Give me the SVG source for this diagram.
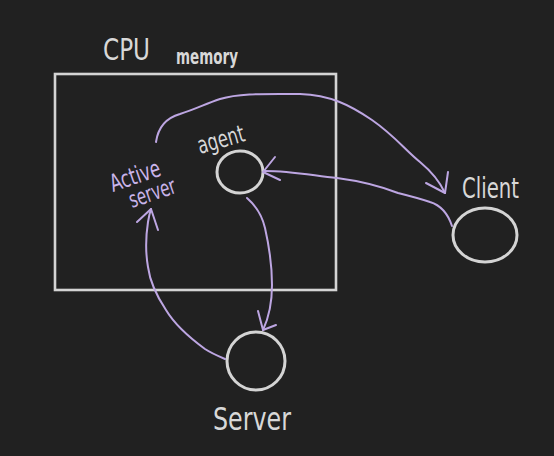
<svg xmlns="http://www.w3.org/2000/svg" width="554" height="456" viewBox="0 0 554 456">
<style>
.bg{fill:#212121}
.box{fill:none;stroke:#d4d4d4;stroke-width:2.6}
.node{fill:none;stroke:#d4d4d4;stroke-width:3}
.lbl{fill:#d8d8d8;font-family:"DejaVu Sans","Liberation Sans",sans-serif}
.plbl{fill:#c9b4ea;font-family:"DejaVu Sans","Liberation Sans",sans-serif}
.edge{fill:none;stroke:#bda6e2;stroke-width:2;stroke-linecap:round;stroke-linejoin:round}
</style>
<rect class="bg" x="0" y="0" width="554" height="456"/>
<g id="cpu">
<rect class="box" x="55" y="74" width="281" height="216"/>
<text class="lbl" x="103" y="60" font-size="31" textLength="47" lengthAdjust="spacingAndGlyphs">CPU</text>
<text class="lbl" x="176" y="64" font-size="22" font-weight="bold" textLength="62" lengthAdjust="spacingAndGlyphs">memory</text>
</g>
<g id="agent">
<ellipse class="node" cx="240" cy="172" rx="23" ry="21"/>
<text class="lbl" x="0" y="0" font-size="24" transform="translate(200,154) rotate(-16)" textLength="48" lengthAdjust="spacingAndGlyphs">agent</text>
</g>
<g id="active-server">
<text class="plbl" x="0" y="0" font-size="24" transform="translate(113,192) rotate(-19)" textLength="52" lengthAdjust="spacingAndGlyphs">Active</text>
<text class="plbl" x="0" y="0" font-size="23" transform="translate(132,208) rotate(-19)" textLength="48" lengthAdjust="spacingAndGlyphs">server</text>
</g>
<g id="client">
<ellipse class="node" cx="485" cy="235" rx="32" ry="27"/>
<text class="lbl" x="462" y="198" font-size="29" textLength="57" lengthAdjust="spacingAndGlyphs">Client</text>
</g>
<g id="server">
<ellipse class="node" cx="256" cy="361" rx="29" ry="29"/>
<text class="lbl" x="213" y="430" font-size="32" textLength="78" lengthAdjust="spacingAndGlyphs">Server</text>
</g>
<g id="connectors">
<path class="edge" d="M156,142 C158,128 166,118 180,114 C196,109 205,104 220,99 C240,93 265,94 300,94 C330,95 350,105 372,120 C395,136 405,150 420,162 C432,172 440,182 445,193"/>
<path class="edge" d="M448,172 L445,193 L426,183"/>
<path class="edge" d="M452,226 C448,214 440,205 430,202 C418,198 410,196 398,193 C380,186 360,181 337,178 C310,175 290,171 265,171"/>
<path class="edge" d="M275,157 L263,172 L280,180"/>
<path class="edge" d="M247,198 C255,205 262,215 265,228 C270,250 272,270 272,285 C272,300 270,315 263,330"/>
<path class="edge" d="M258,311 L263,330 L276,325"/>
<path class="edge" d="M225,359 C218,356 211,353 205,349 C190,338 175,325 166,310 C156,295 150,282 148,267 C145,250 146,235 148,222 C149,216 150,212 151,209"/>
<path class="edge" d="M137,222 L151,209 L158,230"/>
</g>
</svg>
